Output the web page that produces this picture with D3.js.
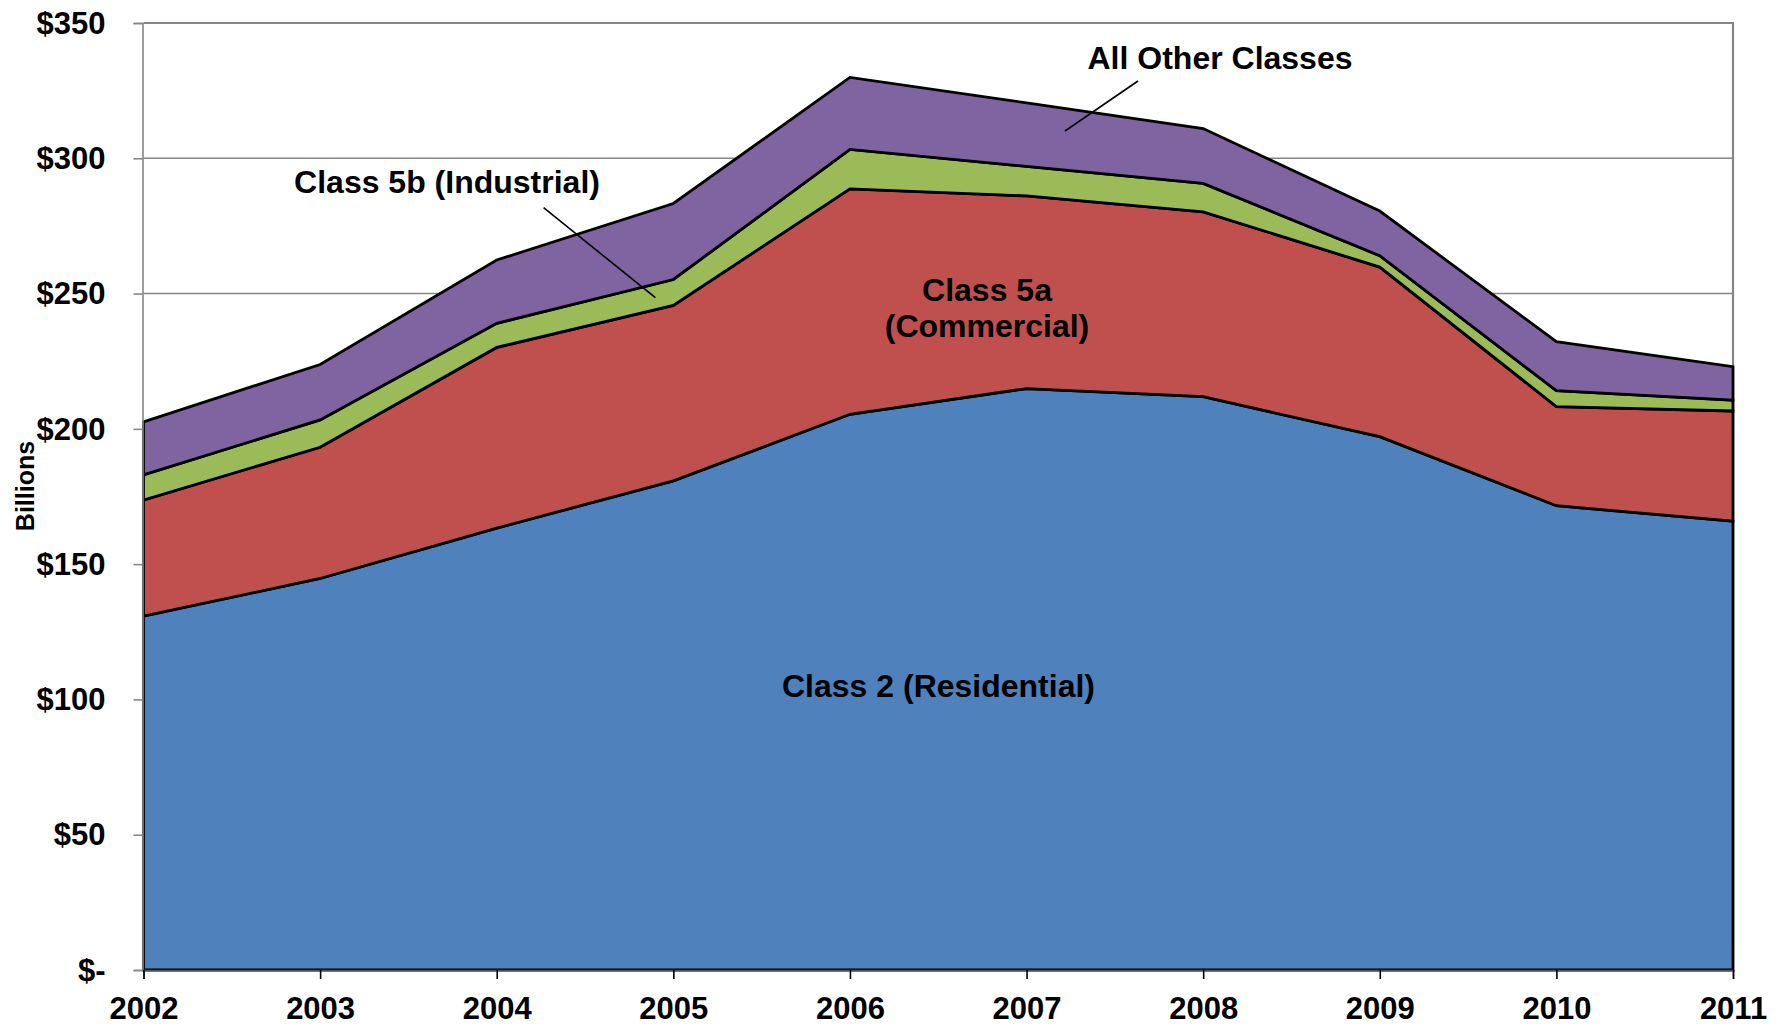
<!DOCTYPE html>
<html>
<head>
<meta charset="utf-8">
<script src="https://cdn.jsdelivr.net/npm/d3@7/dist/d3.min.js"></script>
<style>
  html, body { margin: 0; padding: 0; background: #fff; }
  svg { display: block; }
  text { font-family: "Liberation Sans", Arial, Helvetica, sans-serif; font-weight: bold; fill: #000; }
</style>
</head>
<body>
<svg id="chart" width="1787" height="1026"></svg>
<script>
// ---- data ----
const years = [2002, 2003, 2004, 2005, 2006, 2007, 2008, 2009, 2010, 2011];
const residential = [130.8, 144.7, 163.3, 180.8, 205.4, 214.9, 211.9, 197.1, 171.6, 165.9];
const commercial  = [42.9, 48.5, 66.8, 64.8, 83.3, 71.2, 68.3, 62.7, 36.6, 40.7];
const industrial  = [9.3, 10.1, 8.9, 9.6, 14.6, 10.9, 10.5, 4.2, 5.9, 4.0];
const otherClasses = [19.6, 20.5, 23.4, 28.1, 26.6, 23.5, 20.3, 16.5, 18.1, 12.4];
const seriesKeys = ["residential", "commercial", "industrial", "other"];
const seriesColors = ["#4F81BD", "#C0504D", "#9BBB59", "#8064A2"];
const yTicks = [0, 50, 100, 150, 200, 250, 300, 350];
const gridTicks = [250, 300];

const rows = years.map((yr, i) => ({
  year: yr,
  residential: residential[i],
  commercial: commercial[i],
  industrial: industrial[i],
  other: otherClasses[i]
}));

// ---- layout ----
const svg = d3.select("#chart");
const plotL = 143.5, plotR = 1733, plotT = 23, plotB = 970;
const x = d3.scaleLinear().domain([2002, 2011]).range([plotL, plotR]);
const y = d3.scaleLinear().domain([0, 350]).range([plotB, plotT]);

// gridlines
svg.append("g").selectAll("line").data(gridTicks).join("line")
  .attr("x1", plotL).attr("x2", plotR)
  .attr("y1", d => y(d)).attr("y2", d => y(d))
  .attr("stroke", "#868686").attr("stroke-width", 1.4);

// frame (top & right)
svg.append("path")
  .attr("d", `M${plotL},${y(350)}H${plotR}V${plotB}`)
  .attr("fill", "none").attr("stroke", "#868686").attr("stroke-width", 2.2);

// stacked areas
const stack = d3.stack().keys(seriesKeys);
const layers = stack(rows);
const area = d3.area()
  .x(d => x(d.data.year))
  .y0(d => y(d[0]))
  .y1(d => y(d[1]));

svg.append("g").selectAll("path").data(layers).join("path")
  .attr("d", area)
  .attr("fill", (d, i) => seriesColors[i])
  .attr("stroke", "#000")
  .attr("stroke-width", 2.8)
  .attr("stroke-linejoin", "miter");

// y axis
const yAxis = d3.axisLeft(y)
  .tickValues(yTicks)
  .tickSize(9)
  .tickPadding(28)
  .tickFormat(d => d === 0 ? "$-" : "$" + d);
const gy = svg.append("g").attr("transform", `translate(${plotL - 1},0)`).call(yAxis);
gy.select(".domain").attr("stroke", "#868686").attr("stroke-width", 1.6);
gy.selectAll(".tick line").attr("stroke", "#868686").attr("stroke-width", 1.6);
gy.selectAll(".tick text")
  .attr("font-size", 31).attr("dy", "0.33em")
  .style("font-family", '"Liberation Sans", Arial, sans-serif').style("font-weight", "bold").attr("fill", "#000");

// x axis
const xAxis = d3.axisBottom(x)
  .tickValues(years)
  .tickSize(9)
  .tickFormat(d3.format("d"));
const gx = svg.append("g").attr("transform", `translate(0,${plotB})`).call(xAxis);
gx.select(".domain").attr("stroke", "#555").attr("stroke-width", 1.6);
gx.selectAll(".tick line").attr("stroke", "#000").attr("stroke-width", 1.6);
gx.selectAll(".tick text")
  .attr("font-size", 31).attr("y", 49).attr("dy", 0)
  .style("font-family", '"Liberation Sans", Arial, sans-serif').style("font-weight", "bold").attr("fill", "#000");

// y axis title
svg.append("text")
  .attr("transform", "translate(34,486) rotate(-90)")
  .attr("text-anchor", "middle")
  .attr("font-size", 25)
  .text("Billions");

// series labels
function label(txt, cx, baseline) {
  svg.append("text").attr("x", cx).attr("y", baseline)
    .attr("text-anchor", "middle").attr("font-size", 32).text(txt);
}
label("All Other Classes", 1220, 69);
label("Class 5b (Industrial)", 447, 193);
label("Class 5a", 987, 301);
label("(Commercial)", 987, 337);
label("Class 2 (Residential)", 938.5, 697);

// leader lines
svg.append("line").attr("x1", 1138).attr("y1", 81).attr("x2", 1065).attr("y2", 131)
  .attr("stroke", "#000").attr("stroke-width", 1.6);
svg.append("line").attr("x1", 543.6).attr("y1", 207.7).attr("x2", 655.4).attr("y2", 297.7)
  .attr("stroke", "#000").attr("stroke-width", 1.6);
</script>
</body>
</html>
